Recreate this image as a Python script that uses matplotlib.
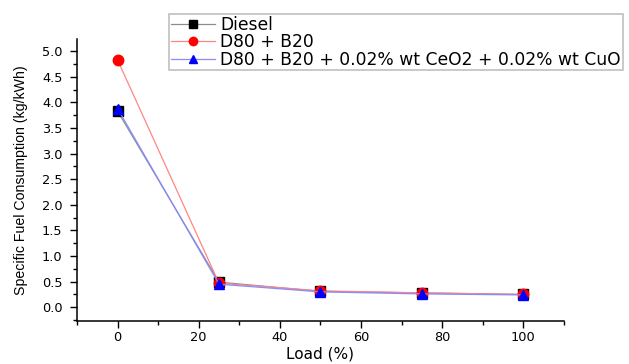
import matplotlib
matplotlib.use('Agg')
import matplotlib.pyplot as plt
from matplotlib.ticker import MultipleLocator

plt.rcParams['font.family'] = ['DejaVu Sans']

load = [0, 25, 50, 75, 100]
diesel = [3.83, 0.49, 0.31, 0.28, 0.25]
d80_b20 = [4.83, 0.47, 0.32, 0.28, 0.25]
d80_b20_nano = [3.88, 0.45, 0.30, 0.26, 0.24]
y_ticks = [0, 0.5, 1, 1.5, 2, 2.5, 3, 3.5, 4, 4.5, 5]
y_tick_labels = ['0.0', '0.5', '1.0', '1.5', '2.0', '2.5', '3.0', '3.5', '4.0', '4.5', '5.0']

fig = plt.figure(figsize=(6.29, 3.64), dpi=100)
ax = fig.add_axes([0.1224, 0.118, 0.774, 0.775])

ax.plot(load, diesel, color='#8c8c8c', lw=0.9, marker='s', ms=6.5,
        mfc='black', mec='black', label='Diesel')
ax.plot(load, d80_b20, color='#ff8585', lw=0.9, marker='o', ms=7.5,
        mfc='red', mec='red', label='D80 + B20')
ax.plot(load, d80_b20_nano, color='#8a8aff', lw=0.9, marker='^', ms=7.5,
        mfc='blue', mec='blue', label='D80 + B20 + 0.02% wt CeO2 + 0.02% wt CuO')

ax.set_xlim(-10, 110)
ax.set_ylim(-0.27, 5.24)
ax.xaxis.set_major_locator(MultipleLocator(20))
ax.xaxis.set_minor_locator(MultipleLocator(10))
ax.yaxis.set_minor_locator(MultipleLocator(0.25))
ax.set_yticks(y_ticks)
ax.set_yticklabels(y_tick_labels)

for s in ['top', 'right']:
    ax.spines[s].set_visible(False)
for s in ['left', 'bottom']:
    ax.spines[s].set_linewidth(1.1)
ax.tick_params(which='major', direction='out', length=5, width=1.0, labelsize=9.3)
ax.tick_params(axis='x', which='major', pad=2)
ax.tick_params(axis='y', which='major', pad=5.5)
ax.tick_params(which='minor', direction='out', length=2.8, width=1.0)

ax.set_xlabel('Load (%)', fontsize=11, labelpad=2)
ax.set_ylabel('Specific Fuel Consumption (kg/kWh)', fontsize=10.2,
              family=['Liberation Sans', 'DejaVu Sans'], labelpad=10)

leg = fig.legend(loc='upper left', bbox_to_anchor=(169 / 629, 1 - 14 / 364), fontsize=12.3,
                 frameon=True, fancybox=False, handlelength=2.6, borderpad=0.1,
                 labelspacing=-0.03, handletextpad=0.3, borderaxespad=0, markerscale=0.8)
leg.get_frame().set_edgecolor('#b0b0b0')
leg.get_frame().set_linewidth(1.2)

fig.savefig('out.png', dpi=100)
